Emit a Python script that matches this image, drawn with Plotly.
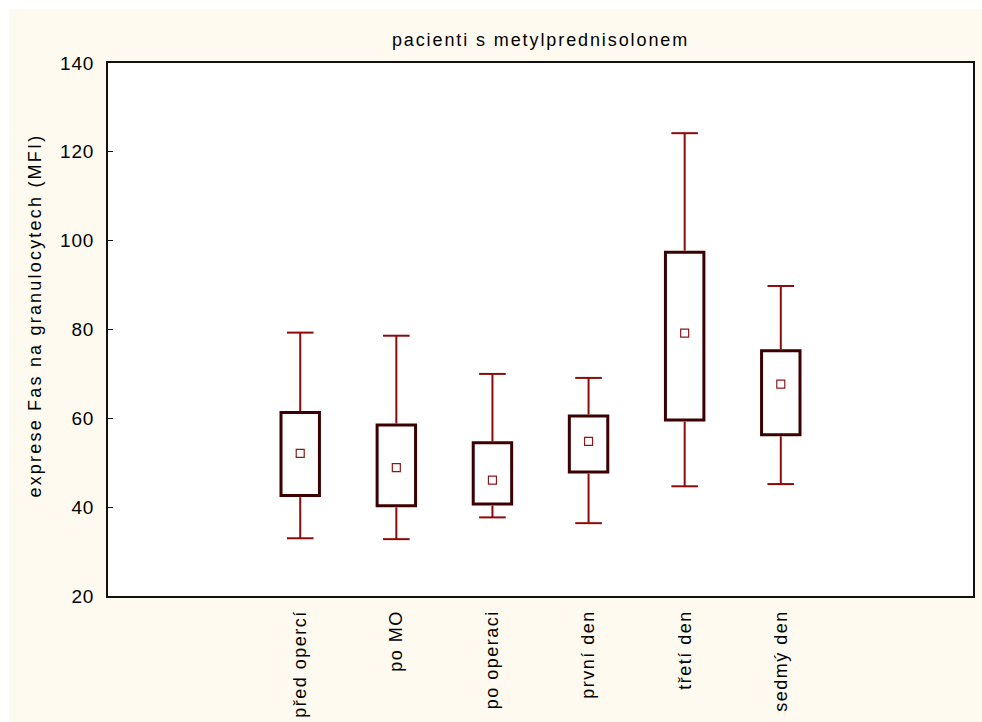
import plotly.graph_objects as go

categories = ["před opercí", "po MO", "po operaci", "první den", "třetí den", "sedmý den"]
means = [52.1, 48.9, 46.1, 54.8, 79.2, 67.7]
box_low = [42.6, 40.3, 40.7, 47.9, 59.6, 56.3]
box_high = [61.3, 58.5, 54.5, 60.5, 97.4, 75.2]
whisk_low = [33.0, 32.8, 37.7, 36.4, 44.7, 45.2]
whisk_high = [79.3, 78.6, 70.0, 69.1, 124.2, 89.8]

FONT = "Liberation Sans, Arial, sans-serif"
WHISK = "#8c0a0a"
BOXC = "#3c0000"
CREAM = "#fffaef"

fig = go.Figure()

# boxes as floating bars
fig.add_trace(go.Bar(
    x=categories, y=[h - l for h, l in zip(box_high, box_low)], base=box_low,
    width=0.4, marker=dict(color="white", line=dict(color=BOXC, width=3)),
    showlegend=False, hoverinfo="skip"))

# whisker stems
wx, wy = [], []
for c, bl, bh, wl, wh in zip(categories, box_low, box_high, whisk_low, whisk_high):
    wx += [c, c, None, c, c, None]
    wy += [bh + 0.35, wh, None, bl - 0.35, wl, None]
fig.add_trace(go.Scatter(
    x=wx, y=wy, mode="lines", line=dict(color=WHISK, width=2),
    showlegend=False, hoverinfo="skip", connectgaps=False))

# whisker caps
fig.add_trace(go.Scatter(
    x=categories + categories, y=whisk_high + whisk_low, mode="markers",
    marker=dict(symbol="line-ew", size=19, color=WHISK, line=dict(color=WHISK, width=2)),
    showlegend=False, hoverinfo="skip"))

# means
fig.add_trace(go.Scatter(
    x=categories, y=means, mode="markers",
    marker=dict(symbol="square-open", size=8, color="#8c1a1a", line=dict(width=1.2)),
    showlegend=False, hoverinfo="skip"))

L, R, T, B = 108, 7, 63, 126
W, H = 982, 722
pw, ph = W - L - R, H - T - B

def px2paper_x(px):
    return (px - L) / pw

def px2paper_y(py):
    return (H - B - py) / ph

fig.update_layout(
    width=W, height=H, autosize=False,
    margin=dict(l=L, r=R, t=T, b=B, pad=0),
    paper_bgcolor="white", plot_bgcolor="white",
    font=dict(family=FONT, color="black", size=18),
    title=dict(text="pacienti s metylprednisolonem", x=0.5, xref="paper",
               y=1 - 40 / H, yanchor="middle", xanchor="center",
               font=dict(size=18, family=FONT, color="black")),
    shapes=[
        dict(type="rect", xref="paper", yref="paper", layer="below",
             x0=px2paper_x(9), x1=px2paper_x(990), y0=px2paper_y(730), y1=px2paper_y(9),
             fillcolor=CREAM, line=dict(width=0)),
        dict(type="rect", xref="paper", yref="paper", layer="below",
             x0=0, x1=1, y0=0, y1=1, fillcolor="white", line=dict(width=0)),
    ],
    annotations=[
        dict(text="exprese Fas na granulocytech (MFI)", textangle=-90,
             xref="paper", yref="paper", x=px2paper_x(35), y=px2paper_y(316),
             xanchor="center", yanchor="middle", showarrow=False,
             font=dict(size=18, family=FONT, color="black")),
    ],
)

fig.update_xaxes(
    type="category", range=[-2, 7], tickangle=-90,
    showline=True, mirror=True, linecolor="#111", linewidth=2,
    showgrid=False, zeroline=False, ticks="",
    tickfont=dict(size=18, family=FONT, color="black"),
    ticklabelstandoff=5,
)
fig.update_yaxes(
    range=[20, 140], dtick=20, tick0=20,
    showline=True, mirror=True, linecolor="#111", linewidth=2,
    showgrid=False, zeroline=False,
    ticks="inside", ticklen=5, tickcolor="#111", tickwidth=1,
    tickfont=dict(size=19, family=FONT, color="black"),
    ticklabelstandoff=8,
)

post = """
var gd = document.getElementById('{plot_id}');
function spacing() {
  gd.querySelectorAll('.gtitle').forEach(function(t){ t.style.letterSpacing = '1.9px'; });
  gd.querySelectorAll('.annotation-text').forEach(function(t){ t.style.letterSpacing = '2.2px'; });
  gd.querySelectorAll('.xtick text').forEach(function(t){ t.style.letterSpacing = '1.5px'; });
  gd.querySelectorAll('.ytick text').forEach(function(t){ t.style.letterSpacing = '0.8px'; });
}
spacing();
gd.on('plotly_afterplot', spacing);
"""

fig.write_html("out.html", post_script=post)
